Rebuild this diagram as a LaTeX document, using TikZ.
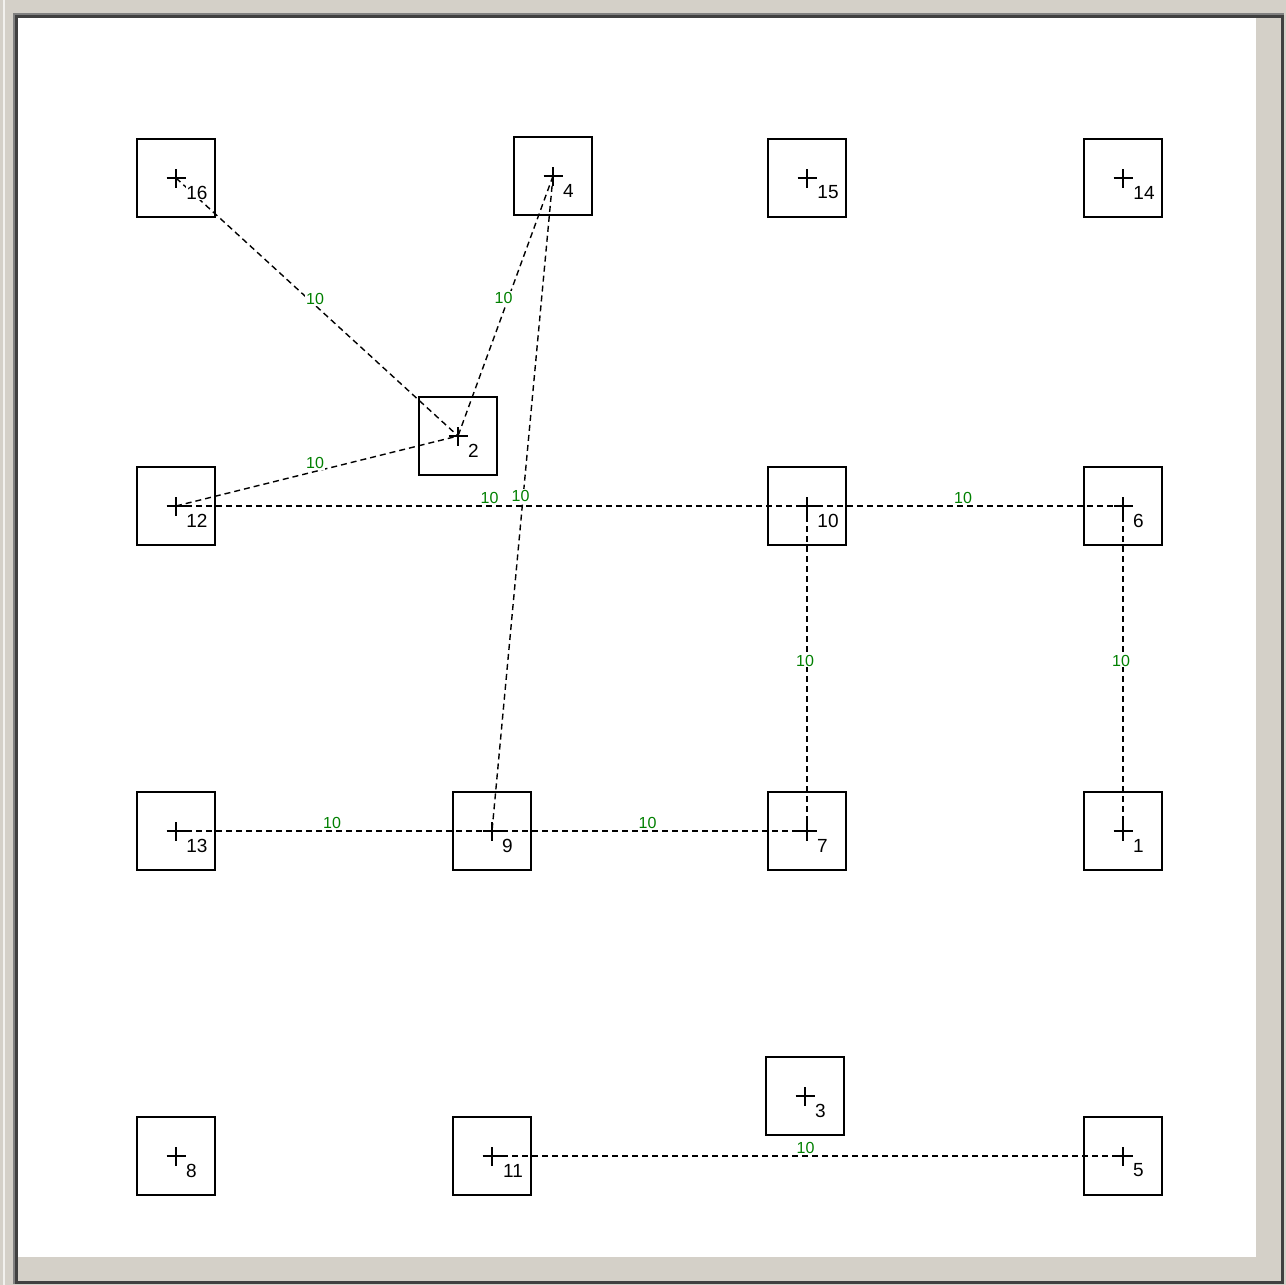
\documentclass[tikz,border=0pt]{standalone}
\usepackage{fontspec}
\setmainfont{Liberation Sans}
\definecolor{frameg}{HTML}{D4D0C8}
\definecolor{darkA}{HTML}{808080}
\definecolor{darkB}{HTML}{404040}
\definecolor{wgreen}{HTML}{008000}
\pgfdeclarelayer{bg}
\pgfdeclarelayer{edges}
\pgfsetlayers{bg,edges,main}
\tikzset{
  box/.style={rectangle, draw, line width=2pt, minimum size=78pt, inner sep=0pt,
    path picture={\draw[line width=2.2pt]
      ([xshift=-9.5pt]path picture bounding box.center) -- ([xshift=9.5pt]path picture bounding box.center)
      ([yshift=-9.5pt]path picture bounding box.center) -- ([yshift=9.5pt]path picture bounding box.center);}},
  numbase/.style={font=\fontsize{19}{19}\selectfont, fill=white, inner sep=0.5pt, yshift=-14.5pt},
  numA/.style={numbase, xshift=15.5pt},
  numB/.style={numbase, xshift=21pt},
  link/.style={dash pattern=on 6pt off 4pt, line width=1.4pt},
  wt/.style={font=\fontsize{16}{16}\selectfont, text=wgreen, fill=white, inner sep=1pt, xshift=-2pt, yshift=8pt}
}
\begin{document}
\begin{tikzpicture}[x=1pt,y=-1pt]
\useasboundingbox (0,0) rectangle (1286,1285);
\begin{pgfonlayer}{bg}
  \fill[frameg] (0,0) rectangle (1286,1285);
  \fill[white!70!frameg] (3,0) rectangle (5,1285);
  \fill[darkA] (13,13) rectangle (1284,1284);
  \fill[darkB] (15,15) rectangle (1284,1284);
  \fill[frameg] (18,18) rectangle (1281,1281);
  \fill[white] (18,18) rectangle (1256,1257);
\end{pgfonlayer}

\node[box, label={[numB]center:16}] (n16) at (176,178) {};
\node[box, label={[numA]center:4}]  (n4)  at (553,176) {};
\node[box, label={[numB]center:15}] (n15) at (807,178) {};
\node[box, label={[numB]center:14}] (n14) at (1123,178) {};
\node[box, label={[numA]center:2}]  (n2)  at (458,436) {};
\node[box, label={[numB]center:12}] (n12) at (176,506) {};
\node[box, label={[numB]center:10}] (n10) at (807,506) {};
\node[box, label={[numA]center:6}]  (n6)  at (1123,506) {};
\node[box, label={[numB]center:13}] (n13) at (176,831) {};
\node[box, label={[numA]center:9}]  (n9)  at (492,831) {};
\node[box, label={[numA]center:7}]  (n7)  at (807,831) {};
\node[box, label={[numA]center:1}]  (n1)  at (1123,831) {};
\node[box, label={[numA]center:3}]  (n3)  at (805,1096) {};
\node[box, label={[numA]center:8}]  (n8)  at (176,1156) {};
\node[box, label={[numB]center:11}] (n11) at (492,1156) {};
\node[box, label={[numA]center:5}]  (n5)  at (1123,1156) {};

\begin{pgfonlayer}{edges}
  \draw[link] (n16.center) -- node[wt]{10} (n2.center);
  \draw[link] (n4.center) -- node[wt]{10} (n2.center);
  \draw[link] (n12.center) -- node[wt]{10} (n2.center);
  \draw[link] (n12.center) -- node[wt]{10} (n10.center);
  \draw[link] (n4.center) -- node[wt]{10} (n9.center);
  \draw[link] (n10.center) -- node[wt]{10} (n6.center);
  \draw[link] (n10.center) -- node[wt]{10} (n7.center);
  \draw[link] (n6.center) -- node[wt]{10} (n1.center);
  \draw[link] (n13.center) -- node[wt]{10} (n9.center);
  \draw[link] (n9.center) -- node[wt]{10} (n7.center);
  \draw[link] (n11.center) -- node[wt]{10} (n5.center);
\end{pgfonlayer}
\end{tikzpicture}
\end{document}
